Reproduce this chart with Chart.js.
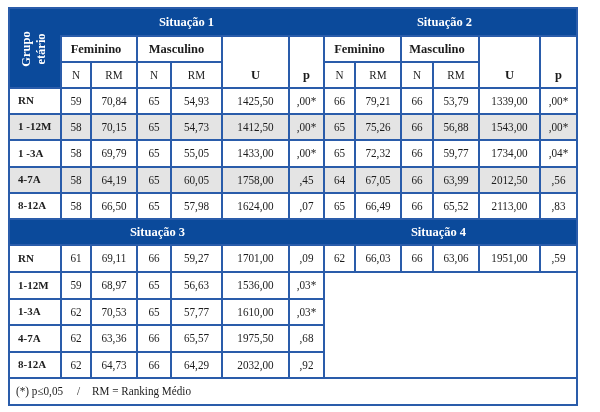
<!DOCTYPE html>
<html lang="pt">
<head>
<meta charset="utf-8">
<script src="https://cdn.jsdelivr.net/npm/chart.js@4.4.1/dist/chart.umd.min.js"></script>
<style>
    html, body { margin: 0; padding: 0; background: #ffffff; }
    #wrap { width: 600px; height: 412px; }
</style>
</head>
<body>
<div id="wrap"><canvas id="tabela" width="600" height="412"></canvas></div>
<script>
// Grupos etários
const gruposSup = ['RN', '1 -12M', '1 -3A', '4-7A', '8-12A'];
const gruposInf = ['RN', '1-12M', '1-3A', '4-7A', '8-12A'];

// Situação 1
const s1FemN  = [59, 58, 58, 58, 58];
const s1FemRM = [70.84, 70.15, 69.79, 64.19, 66.50];
const s1MasN  = [65, 65, 65, 65, 65];
const s1MasRM = [54.93, 54.73, 55.05, 60.05, 57.98];
const s1U     = [1425.50, 1412.50, 1433.00, 1758.00, 1624.00];
const s1P     = [0.00, 0.00, 0.00, 0.45, 0.07];

// Situação 2
const s2FemN  = [66, 65, 65, 64, 65];
const s2FemRM = [79.21, 75.26, 72.32, 67.05, 66.49];
const s2MasN  = [66, 66, 66, 66, 66];
const s2MasRM = [53.79, 56.88, 59.77, 63.99, 65.52];
const s2U     = [1339.00, 1543.00, 1734.00, 2012.50, 2113.00];
const s2P     = [0.00, 0.00, 0.04, 0.56, 0.83];

// Situação 3
const s3FemN  = [61, 59, 62, 62, 62];
const s3FemRM = [69.11, 68.97, 70.53, 63.36, 64.73];
const s3MasN  = [66, 65, 65, 66, 66];
const s3MasRM = [59.27, 56.63, 57.77, 65.57, 64.29];
const s3U     = [1701.00, 1536.00, 1610.00, 1975.50, 2032.00];
const s3P     = [0.09, 0.03, 0.03, 0.68, 0.92];

// Situação 4 (só RN)
const s4FemN  = [62];
const s4FemRM = [66.03];
const s4MasN  = [66];
const s4MasRM = [63.06];
const s4U     = [1951.00];
const s4P     = [0.59];

const colHeaders = ['N', 'RM', 'N', 'RM'];
const nota = ['(*) p\u22640,05', '/', 'RM = Ranking Médio'];

// Estilo
const AZUL = '#0b4a9b';
const LINHA = '#2a5caa';
const CINZA = '#e4e4e4';
const TEXTO = '#1c1c1c';
const SERIF = '"Liberation Serif", "Times New Roman", serif';

// Bordas das colunas e linhas (em unidades das escalas)
const colunas = [9, 61, 91, 137, 171, 222, 289, 324, 355, 401, 433, 479, 540, 577];
const linhas = [8, 36, 62, 88, 114, 140, 167, 193, 219, 245, 272, 299, 325, 352, 378, 405];

const fmt2 = v => v.toFixed(2).replace('.', ',');
const fmtP = v => v.toFixed(2).replace(/^0\./, ',') + (v <= 0.05 ? '*' : '');

function linhaSituacao(fN, fRM, mN, mRM, u, p, i) {
    return [String(fN[i]), fmt2(fRM[i]), String(mN[i]), fmt2(mRM[i]), fmt2(u[i]), fmtP(p[i])];
}

// Plugin que desenha a tabela usando as escalas do gráfico
const tabelaPlugin = {
    id: 'tabela',
    afterDraw(chart) {
        const ctx = chart.ctx;
        const sx = chart.scales.x;
        const sy = chart.scales.y;
        const X = c => sx.getPixelForValue(colunas[c]);
        const Y = r => sy.getPixelForValue(linhas[r]);

        const fills = [];
        const bordas = [];
        const textos = [];

        function celula(c0, c1, r0, r1, fundo, borda) {
            if (fundo) fills.push([c0, c1, r0, r1, fundo]);
            if (borda) bordas.push([c0, c1, r0, r1]);
        }
        function texto(txt, c0, c1, r0, r1, font, cor, align, dx, k) {
            textos.push({ txt, c0, c1, r0, r1, font, cor, align: align || 'center', dx: dx || 0, k: k || 1 });
        }

        const fData = '12px ' + SERIF;
        const kData = 0.93;
        const fRot = 'bold 11px ' + SERIF;
        const fHead = 'bold 12.5px ' + SERIF;

        // Cabeçalho superior
        celula(0, 13, 0, 1, AZUL);
        celula(0, 1, 0, 3, AZUL);
        texto('Situação 1', 1, 7, 0, 1, fHead, '#fff', 'center', -6);
        texto('Situação 2', 7, 13, 0, 1, fHead, '#fff', 'center', -6);

        [1, 7].forEach(base => {
            celula(base, base + 2, 1, 2, '#fff', true);
            celula(base + 2, base + 4, 1, 2, '#fff', true);
            celula(base + 4, base + 5, 1, 3, '#fff', true);
            celula(base + 5, base + 6, 1, 3, '#fff', true);
            texto('Feminino', base, base + 2, 1, 2, fHead, TEXTO, 'center', -3);
            texto('Masculino', base + 2, base + 4, 1, 2, fHead, TEXTO, 'center', -3);
            colHeaders.forEach((h, k) => {
                celula(base + k, base + k + 1, 2, 3, '#fff', true);
                texto(h, base + k, base + k + 1, 2, 3, fData, TEXTO, 'center', 0, kData);
            });
            texto('U', base + 4, base + 5, 2, 3, fHead, TEXTO);
            texto('p', base + 5, base + 6, 2, 3, fHead, TEXTO);
        });

        // Situações 1 e 2
        gruposSup.forEach((g, i) => {
            const r = 3 + i;
            const fundo = i % 2 === 1 ? CINZA : '#fff';
            celula(0, 1, r, r + 1, fundo, true);
            texto(g, 0, 1, r, r + 1, fRot, TEXTO, 'left', 9);
            const vals = linhaSituacao(s1FemN, s1FemRM, s1MasN, s1MasRM, s1U, s1P, i)
                .concat(linhaSituacao(s2FemN, s2FemRM, s2MasN, s2MasRM, s2U, s2P, i));
            vals.forEach((v, k) => {
                celula(1 + k, 2 + k, r, r + 1, fundo, true);
                texto(v, 1 + k, 2 + k, r, r + 1, fData, TEXTO, 'center', 0, kData);
            });
        });

        // Cabeçalho inferior
        celula(0, 13, 8, 9, AZUL);
        texto('Situação 3', 0, 7, 8, 9, fHead, '#fff', 'center', -9);
        texto('Situação 4', 7, 13, 8, 9, fHead, '#fff', 'center', -12);

        // Situação 3 (e 4 na linha RN)
        gruposInf.forEach((g, i) => {
            const r = 9 + i;
            celula(0, 1, r, r + 1, '#fff', true);
            texto(g, 0, 1, r, r + 1, fRot, TEXTO, 'left', 9);
            let vals = linhaSituacao(s3FemN, s3FemRM, s3MasN, s3MasRM, s3U, s3P, i);
            if (i < s4FemN.length) {
                vals = vals.concat(linhaSituacao(s4FemN, s4FemRM, s4MasN, s4MasRM, s4U, s4P, i));
            }
            vals.forEach((v, k) => {
                celula(1 + k, 2 + k, r, r + 1, '#fff', true);
                texto(v, 1 + k, 2 + k, r, r + 1, fData, TEXTO, 'center', 0, kData);
            });
        });
        celula(7, 13, 10, 14, '#fff', true);

        // Nota de rodapé
        celula(0, 13, 14, 15, '#fff', true);
        texto(nota[0], 0, 13, 14, 15, fData, TEXTO, 'left', 7, kData);
        texto(nota[1], 0, 13, 14, 15, fData, TEXTO, 'left', 68, kData);
        texto(nota[2], 0, 13, 14, 15, fData, TEXTO, 'left', 83, kData);

        ctx.save();
        fills.forEach(([c0, c1, r0, r1, cor]) => {
            ctx.fillStyle = cor;
            ctx.fillRect(X(c0), Y(r0), X(c1) - X(c0), Y(r1) - Y(r0));
        });
        ctx.strokeStyle = LINHA;
        ctx.lineWidth = 2;
        bordas.forEach(([c0, c1, r0, r1]) => {
            ctx.strokeRect(X(c0), Y(r0), X(c1) - X(c0), Y(r1) - Y(r0));
        });
        ctx.strokeRect(X(0), Y(0), X(13) - X(0), Y(15) - Y(0));

        ctx.textBaseline = 'middle';
        textos.forEach(t => {
            ctx.font = t.font;
            ctx.fillStyle = t.cor;
            ctx.textAlign = t.align;
            const yc = (Y(t.r0) + Y(t.r1)) / 2 + 0.5;
            const xc = t.align === 'left' ? X(t.c0) + t.dx : (X(t.c0) + X(t.c1)) / 2 + t.dx;
            ctx.save();
            ctx.translate(xc, yc);
            ctx.scale(t.k, 1);
            ctx.fillText(t.txt, 0, 0);
            ctx.restore();
        });

        // Grupo etário (vertical)
        ctx.font = 'bold 12.5px ' + SERIF;
        ctx.fillStyle = '#fff';
        ctx.textAlign = 'center';
        ctx.translate((X(0) + X(1)) / 2, (Y(0) + Y(3)) / 2 + 1);
        ctx.rotate(-Math.PI / 2);
        ctx.fillText('Grupo', 0, -8);
        ctx.fillText('etário', 0, 7);
        ctx.restore();
    }
};

let charts = {};

function renderTabela() {
    const ctx = document.getElementById('tabela');
    charts.tabela = new Chart(ctx, {
        type: 'scatter',
        data: { datasets: [{ data: [] }] },
        options: {
            responsive: false,
            animation: false,
            events: [],
            layout: { padding: 0 },
            plugins: {
                legend: { display: false },
                tooltip: { enabled: false }
            },
            scales: {
                x: { type: 'linear', min: 0, max: 600, display: false },
                y: { type: 'linear', min: 0, max: 412, reverse: true, display: false }
            }
        },
        plugins: [tabelaPlugin]
    });
}

renderTabela();
</script>
</body>
</html>
